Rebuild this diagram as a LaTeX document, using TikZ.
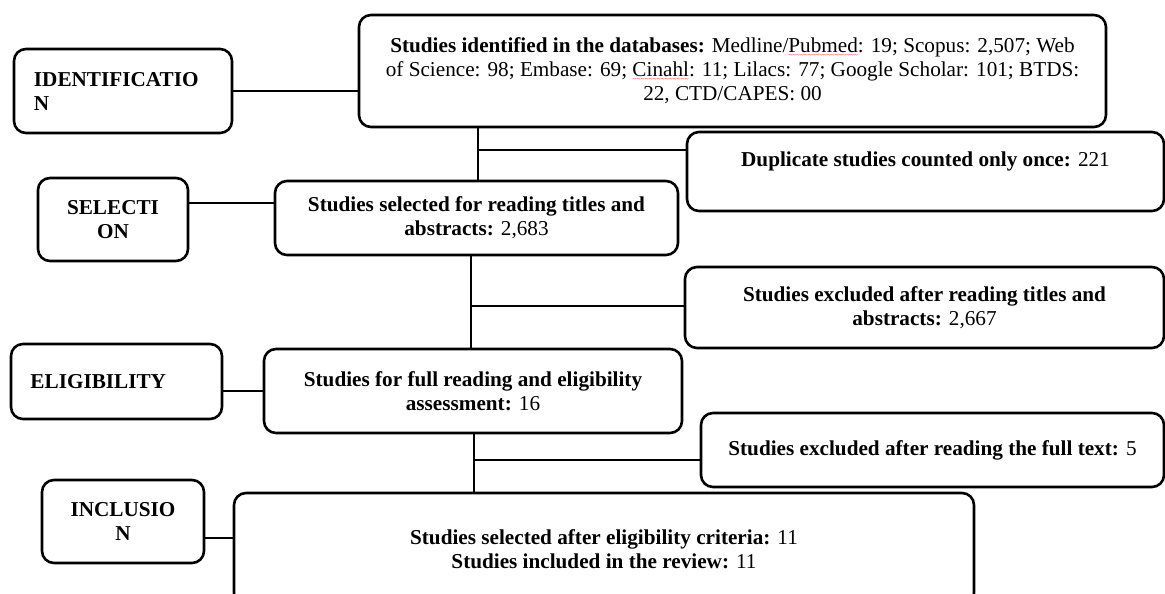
\documentclass[tikz,border=0pt]{standalone}
\usepackage{fontspec}
\setmainfont{Liberation Serif}
\usepackage{tikz}
\usetikzlibrary{positioning}
\newcommand\spellwave[1]{\setbox0\hbox{#1}\rlap{\raisebox{-4.5pt}{\textcolor{red}{\hbox to \wd0{\fontsize{7}{7}\selectfont\xleaders\hbox{\textasciitilde}\hfill}}}}#1}

\begin{document}
\begin{tikzpicture}[x=1pt,y=-1pt,
  stage/.style={draw,line width=2.6pt,rounded corners=12pt,align=center,
    font=\fontsize{21.2}{24}\selectfont\bfseries,inner sep=3pt},
  studybox/.style={draw,line width=2.6pt,rounded corners=12pt,align=center,
    font=\fontsize{21.2}{24}\selectfont,inner sep=3pt},
  link/.style={line width=1.2pt}]
  \useasboundingbox (0,0) rectangle (1165,594);
  \clip (0,0) rectangle (1165,594);
  \node[stage,minimum width=218pt,minimum height=84pt,text width=178pt,align=left] (ident) at (123,91) {IDENTIFICATIO\\N};
  \node[stage,minimum width=150pt,minimum height=83pt] (sel) at (113,219.5) {SELECTI\\ON};
  \node[stage,minimum width=211pt,minimum height=75pt,text width=172pt,align=left] (elig) at (116.5,381.5) {ELIGIBILITY};
  \node[stage,minimum width=162pt,minimum height=83pt] (incl) at (123,521.5) {INCLUSIO\\N};
  \node[studybox,minimum width=747pt,minimum height=112pt] (dbs) at (732.5,71)
    {\textbf{Studies identified in the databases:} Medline/\spellwave{Pubmed}: 19; Scopus: 2,507; Web\\
     of Science: 98; Embase: 69; \spellwave{Cinahl}: 11; Lilacs: 77; Google Scholar: 101; BTDS:\\
     22, CTD/CAPES: 00};
  \node[studybox,minimum width=477pt,minimum height=79pt] (dup) at (925.5,171.5)
    {\textbf{Duplicate studies counted only once:} 221\\~};
  \node[studybox,minimum width=403pt,minimum height=74pt] (scr) at (476.5,218)
    {\textbf{Studies selected for reading titles and}\\\textbf{abstracts:} 2,683};
  \node[studybox,minimum width=479pt,minimum height=81pt] (excla) at (924.5,307.5)
    {\textbf{Studies excluded after reading titles and}\\\textbf{abstracts:} 2,667};
  \node[studybox,minimum width=418pt,minimum height=84pt] (full) at (473,391)
    {\textbf{Studies for full reading and eligibility}\\\textbf{assessment:} 16};
  \node[studybox,minimum width=463pt,minimum height=74pt] (exclb) at (932.5,450)
    {\textbf{Studies excluded after reading the full text:} 5};
  \node[studybox,minimum width=740pt,minimum height=112pt] (final) at (604,549)
    {\textbf{Studies selected after eligibility criteria:} 11\\\textbf{Studies included in the review:} 11};
  \coordinate (ta) at (478,150);
  \coordinate (tb) at (471,306);
  \coordinate (tc) at (474,460);
  \coordinate (ya) at (0,203);
  \coordinate (yb) at (0,538);
  \draw[link] (ident.east) -- (ident.east -| dbs.west);
  \draw[link] (sel.east |- ya) -- (scr.west |- ya);
  \draw[link] (elig.east |- full.west) -- (full.west);
  \draw[link] (incl.east |- yb) -- (final.west |- yb);
  \draw[link] (dbs.south -| ta) -- (scr.north -| ta);
  \draw[link] (ta) -- (ta -| dup.west);
  \draw[link] (scr.south -| tb) -- (full.north -| tb);
  \draw[link] (tb) -- (tb -| excla.west);
  \draw[link] (full.south -| tc) -- (final.north -| tc);
  \draw[link] (tc) -- (tc -| exclb.west);
\end{tikzpicture}
\end{document}
